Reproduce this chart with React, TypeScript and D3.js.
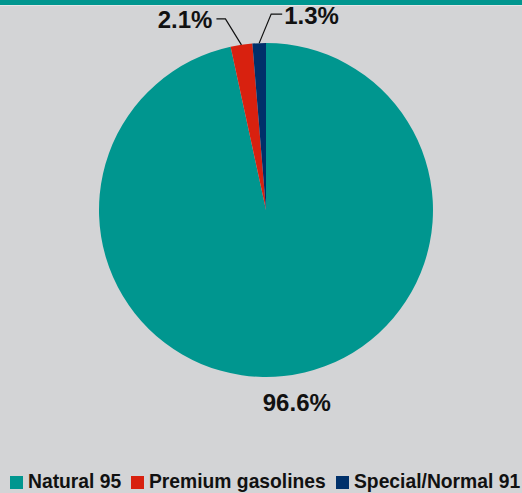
import React from "react";
import * as d3 from "d3";

// Gasoline sales share by grade
const categories = ["Natural 95", "Premium gasolines", "Special/Normal 91"];
const shares = [96.6, 2.1, 1.3];
const valueLabels = ["96.6%", "2.1%", "1.3%"];
const colors = ["#00968f", "#d8210f", "#00306a"];

const W = 522;
const H = 493;
const CX = 266;
const CY = 210;
const R = 167;
const FONT = "'Liberation Sans', Arial, Helvetica, sans-serif";

// leader line bends (relative to slice edge point) and label placement
const labelLayout = [
  { kind: "plain", dx: 13, y: 411 },
  { kind: "leader", elbow: [-16, -26], run: -9, anchor: "end", textGap: -4, baseDy: 9 },
  { kind: "leader", elbow: [12, -29], run: 11, anchor: "start", textGap: 2, baseDy: 10 },
];

const legendLayout = { squareX: [10, 131, 336], textGap: 18, squareY: 476, size: 13, baseline: 488 };

export default function App() {
  const pie = d3
    .pie<number>()
    .sort(null)
    .value((d) => d);
  const arcs = pie(shares);
  const arcGen = d3.arc<d3.PieArcDatum<number>>().innerRadius(0).outerRadius(R);

  const edgePoint = (a: d3.PieArcDatum<number>, r: number) => {
    const mid = (a.startAngle + a.endAngle) / 2;
    return [CX + r * Math.sin(mid), CY - r * Math.cos(mid)];
  };

  return (
    <svg
      width={W}
      height={H}
      style={{ position: "absolute", left: 0, top: 0, display: "block" }}
      fontFamily={FONT}
    >
      <rect x={0} y={0} width={W} height={H} fill="#d3d4d6" />
      <rect x={0} y={0} width={W} height={5} fill="#00968f" />
      <rect x={0} y={5} width={W} height={1} fill="#e4e6e7" />

      <g transform={`translate(${CX},${CY})`}>
        {arcs.map((a, i) => (
          <path key={categories[i]} d={arcGen(a) || ""} fill={colors[i]} />
        ))}
      </g>

      {arcs.map((a, i) => {
        const lay = labelLayout[i] as any;
        if (lay.kind === "plain") {
          const [px] = edgePoint(a, R);
          return (
            <text
              key={"lbl" + i}
              x={px + lay.dx}
              y={lay.y}
              textAnchor="middle"
              fontSize={24}
              fontWeight="bold"
              fill="#111"
            >
              {valueLabels[i]}
            </text>
          );
        }
        const [sx, sy] = edgePoint(a, R);
        const ex = sx + lay.elbow[0];
        const ey = sy + lay.elbow[1];
        const hx = ex + lay.run;
        return (
          <g key={"lbl" + i}>
            <polyline
              points={`${sx},${sy} ${ex},${ey} ${hx},${ey}`}
              fill="none"
              stroke="#111"
              strokeWidth={1.2}
            />
            <text
              x={hx + lay.textGap}
              y={ey + lay.baseDy}
              textAnchor={lay.anchor}
              fontSize={24}
              fontWeight="bold"
              fill="#111"
            >
              {valueLabels[i]}
            </text>
          </g>
        );
      })}

      {categories.map((c, i) => (
        <g key={"leg" + c}>
          <rect
            x={legendLayout.squareX[i]}
            y={legendLayout.squareY}
            width={legendLayout.size}
            height={legendLayout.size}
            fill={colors[i]}
          />
          <text
            x={legendLayout.squareX[i] + legendLayout.textGap}
            y={legendLayout.baseline}
            fontSize={19.3}
            fontWeight="bold"
            fill="#111"
          >
            {c}
          </text>
        </g>
      ))}
    </svg>
  );
}
